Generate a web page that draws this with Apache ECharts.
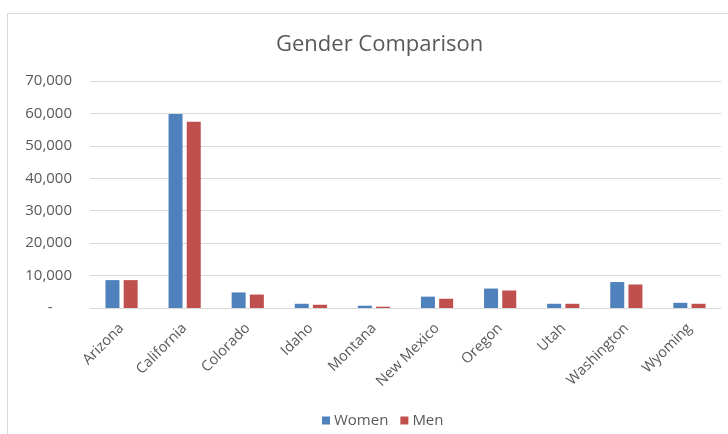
<!DOCTYPE html>
<html>
<head>
<meta charset="utf-8">
<script src="https://cdn.jsdelivr.net/npm/echarts@6/dist/echarts.min.js"></script>
<style>
html,body{margin:0;padding:0;background:#fff;}
#c{width:728px;height:434px;}
</style>
</head>
<body>
<div id="c"></div>
<script>
const categories = ['Arizona','California','Colorado','Idaho','Montana','New Mexico','Oregon','Utah','Washington','Wyoming'];
const women = [8600, 59800, 4800, 1300, 700, 3500, 6000, 1300, 8000, 1600];
const men = [8600, 57450, 4150, 1000, 400, 2850, 5400, 1300, 7250, 1300];
const yTicks = { min: 0, max: 70000, interval: 10000 };

const chart = echarts.init(document.getElementById('c'), null, {renderer: 'canvas'});
const fontFamily = '"Open Sans", "Noto Sans", sans-serif';
chart.setOption({
  animation: false,
  textStyle: { fontFamily: fontFamily },
  graphic: [{
    type: 'rect', shape: { x: 7.5, y: 13.5, width: 740, height: 440 },
    style: { fill: 'none', stroke: '#d9d9d9', lineWidth: 1 }, silent: true
  }],
  title: {
    text: 'Gender Comparison', left: 271, top: 29,
    textStyle: { fontFamily: fontFamily, fontWeight: 'normal', fontSize: 22, color: '#595959' }
  },
  legend: {
    data: ['Women', 'Men'], top: 408, left: 317,
    itemWidth: 8, itemHeight: 8, itemGap: 12, icon: 'rect',
    textStyle: { fontSize: 15, color: '#595959', fontFamily: fontFamily, padding: [0, 0, 0, -1] }
  },
  grid: { left: 90, right: 7, top: 81, bottom: 126, containLabel: false },
  xAxis: {
    type: 'category', data: categories,
    axisLine: { show: true, lineStyle: { color: '#d9d9d9', width: 1 } },
    axisTick: { show: false },
    axisLabel: { rotate: 45, color: '#595959', fontSize: 14.5, margin: 18, interval: 0 }
  },
  yAxis: {
    type: 'value', min: yTicks.min, max: yTicks.max, interval: yTicks.interval,
    axisLine: { show: false }, axisTick: { show: false },
    splitLine: { lineStyle: { color: '#d9d9d9', width: 1 } },
    axisLabel: {
      color: '#595959', fontSize: 15, margin: 18,
      formatter: function (v) { return v === 0 ? '-     ' : v.toLocaleString('en-US'); }
    }
  },
  series: [
    { name: 'Women', type: 'bar', data: women, barWidth: 14, barGap: '30%',
      itemStyle: { color: '#4F81BD' } },
    { name: 'Men', type: 'bar', data: men, barWidth: 14, barGap: '30%',
      itemStyle: { color: '#C0504D' } }
  ]
});
</script>
</body>
</html>
